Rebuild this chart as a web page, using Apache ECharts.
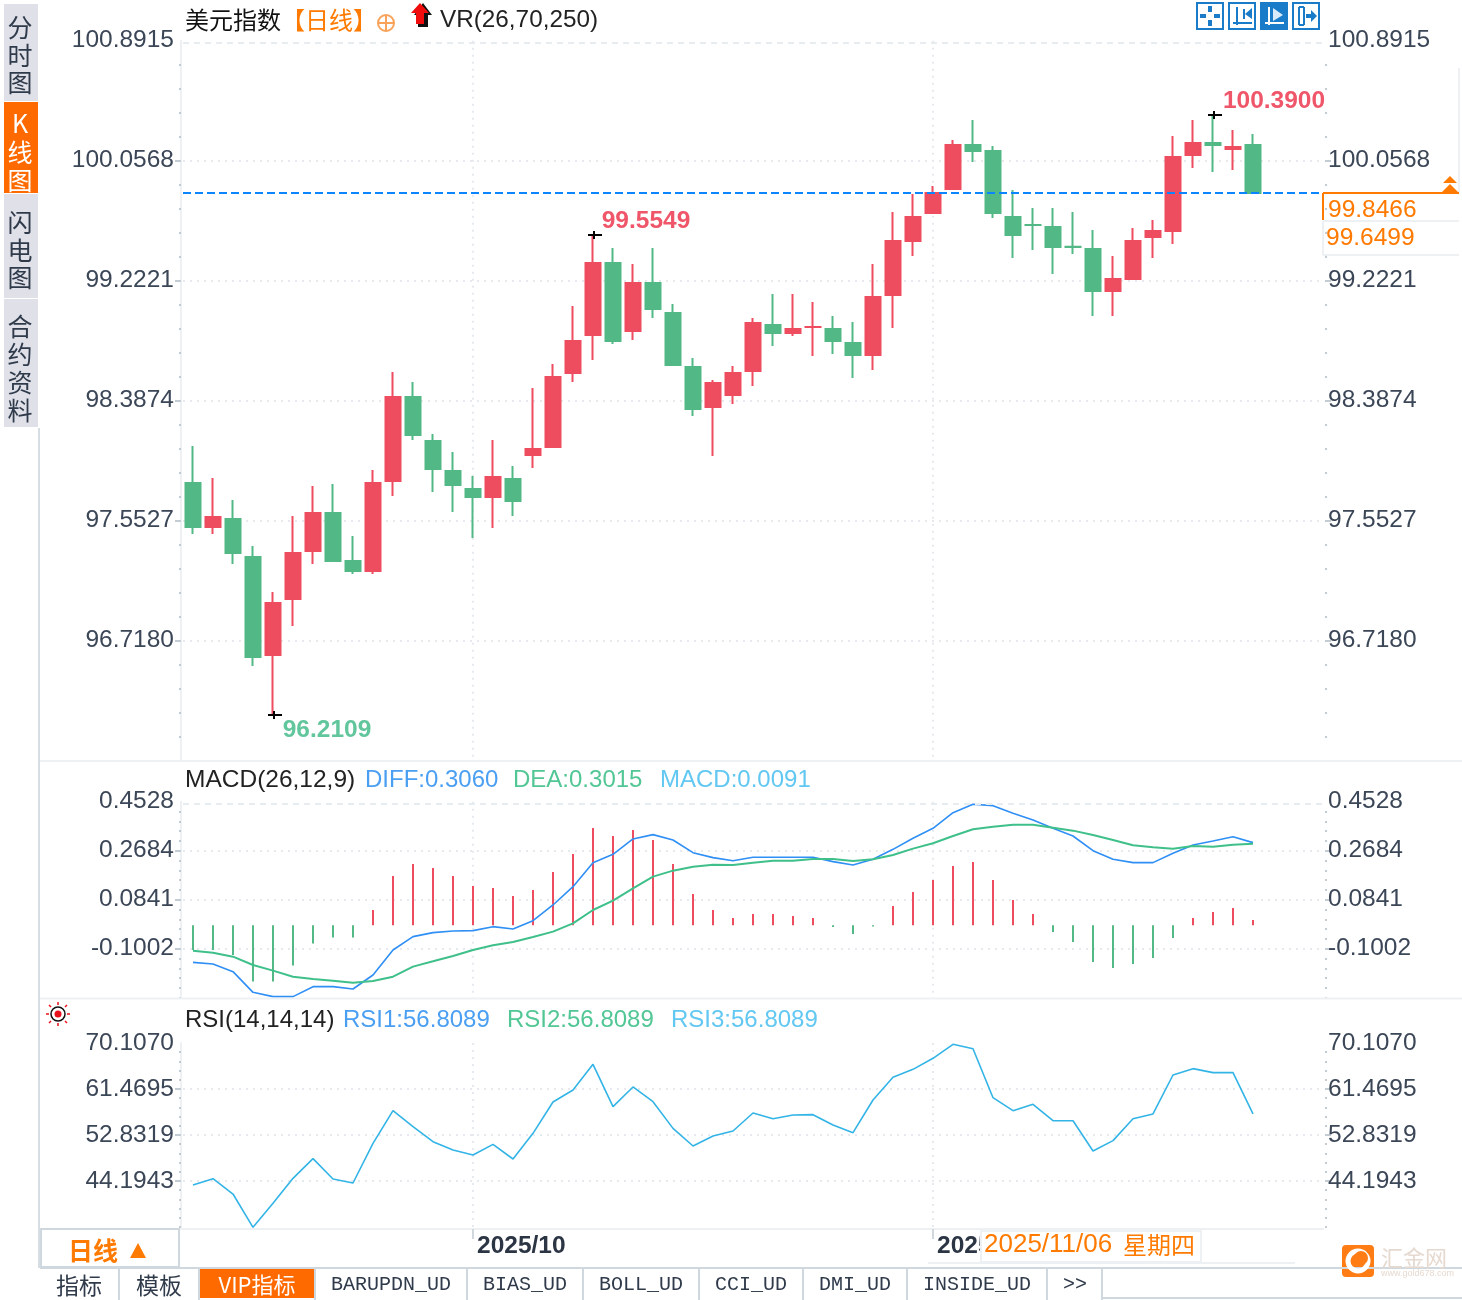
<!DOCTYPE html>
<html>
<head>
<meta charset="utf-8">
<title>美元指数 日线</title>
<script src="https://cdn.jsdelivr.net/npm/echarts@6/dist/echarts.min.js"></script>
<style>
  html, body { margin: 0; padding: 0; background: #fff; }
  #chart { width: 1462px; height: 1300px; }
</style>
</head>
<body>
<div id="chart"></div>
<script>
const dates = [
  '2025-09-11','2025-09-12','2025-09-15','2025-09-16','2025-09-17','2025-09-18','2025-09-19',
  '2025-09-22','2025-09-23','2025-09-24','2025-09-25','2025-09-26','2025-09-29','2025-09-30',
  '2025-10-01','2025-10-02','2025-10-03','2025-10-06','2025-10-07','2025-10-08','2025-10-09','2025-10-10',
  '2025-10-13','2025-10-14','2025-10-15','2025-10-16','2025-10-17',
  '2025-10-20','2025-10-21','2025-10-22','2025-10-23','2025-10-24',
  '2025-10-27','2025-10-28','2025-10-29','2025-10-30','2025-10-31',
  '2025-11-03','2025-11-04','2025-11-05','2025-11-06','2025-11-07',
  '2025-11-10','2025-11-11','2025-11-12','2025-11-13','2025-11-14',
  '2025-11-17','2025-11-18','2025-11-19','2025-11-20','2025-11-21',
  '2025-11-24','2025-11-25','','',''
];
const monthDates = ['2025-10-01', '2025-11-03'];
const monthLabels = ['2025/10', '2025/11'];

const opens = [
  97.827, 97.520, 97.576, 97.312, 96.629, 97.019, 97.353, 97.618, 97.284, 97.214,
  97.841, 98.426, 98.119, 97.910, 97.785, 97.729, 97.855, 98.022, 98.078, 98.593,
  98.858, 99.359, 98.886, 99.220, 99.011, 98.635, 98.356, 98.440, 98.607, 98.927,
  98.872, 98.913, 98.899, 98.802, 98.719, 99.136, 99.513, 99.707, 99.875, 100.181,
  100.139, 99.680, 99.6245, 99.610, 99.4715, 99.457, 99.164, 99.248, 99.540, 99.582,
  100.111, 100.195, 100.153, 100.181
];
const closes = [
  97.520, 97.590, 97.339, 96.615, 96.991, 97.339, 97.618, 97.284, 97.214, 97.827,
  98.426, 98.161, 97.924, 97.813, 97.729, 97.869, 97.702, 98.064, 98.565, 98.816,
  99.359, 98.816, 99.220, 99.039, 98.649, 98.342, 98.523, 98.593, 98.941, 98.872,
  98.899, 98.914, 98.816, 98.719, 99.122, 99.512, 99.680, 99.847, 100.181, 100.139,
  99.707, 99.554, 99.6235, 99.471, 99.4705, 99.164, 99.248, 99.512, 99.582, 100.097,
  100.195, 100.181, 100.167, 99.8466
];
const lows = [
  97.472, 97.472, 97.263, 96.552, 96.2109, 96.831, 97.263, 97.277, 97.193, 97.193,
  97.736, 98.126, 97.764, 97.625, 97.444, 97.513, 97.597, 97.931, 98.071, 98.530,
  98.684, 98.795, 98.823, 98.976, 98.642, 98.294, 98.015, 98.377, 98.503, 98.781,
  98.851, 98.712, 98.725, 98.558, 98.614, 98.906, 99.408, 99.700, 99.868, 100.063,
  99.673, 99.394, 99.450, 99.283, 99.422, 98.990, 98.990, 99.241, 99.394, 99.492,
  100.021, 99.993, 100.007, 99.8466
];
const highs = [
  98.085, 97.862, 97.709, 97.388, 97.068, 97.597, 97.806, 97.820, 97.458, 97.917,
  98.600, 98.530, 98.168, 98.043, 97.876, 98.126, 97.945, 98.489, 98.656, 99.060,
  99.5549, 99.464, 99.352, 99.464, 99.074, 98.697, 98.544, 98.642, 98.976, 99.143,
  99.143, 99.088, 98.990, 98.948, 99.352, 99.714, 99.840, 99.896, 100.216, 100.355,
  100.174, 99.868, 99.742, 99.742, 99.714, 99.589, 99.408, 99.603, 99.659, 100.244,
  100.355, 100.3900, 100.286, 100.258
];
const diff = [
  -0.1373, -0.1435, -0.1719, -0.2484, -0.2644, -0.2644, -0.2274, -0.2274, -0.2360, -0.1842,
  -0.0916, -0.0422, -0.0274, -0.0212, -0.0200, -0.0052, -0.0138, 0.0170, 0.0751, 0.1430,
  0.2319, 0.2627, 0.3195, 0.3356, 0.3158, 0.2689, 0.2504, 0.2386, 0.2516, 0.2516,
  0.2516, 0.2516, 0.2356, 0.2232, 0.2442, 0.2812, 0.3220, 0.3590, 0.4170, 0.4479,
  0.4430, 0.4146, 0.3899, 0.3590, 0.3306, 0.2763, 0.2442, 0.2319, 0.2319, 0.2664,
  0.2973, 0.3121, 0.3281, 0.3060
];
const dea = [
  -0.0941, -0.1015, -0.1163, -0.1472, -0.1681, -0.1904, -0.1990, -0.2052, -0.2126, -0.2064,
  -0.1904, -0.1533, -0.1336, -0.1138, -0.0916, -0.0743, -0.0620, -0.0435, -0.0237, 0.0072,
  0.0565, 0.0911, 0.1368, 0.1800, 0.2022, 0.2170, 0.2244, 0.2232, 0.2319, 0.2393,
  0.2393, 0.2454, 0.2454, 0.2380, 0.2442, 0.2602, 0.2837, 0.3035, 0.3306, 0.3553,
  0.3652, 0.3726, 0.3726, 0.3615, 0.3504, 0.3343, 0.3158, 0.2961, 0.2886, 0.2837,
  0.2936, 0.2911, 0.2985, 0.3015
];
const macd = [
  -0.0914, -0.0914, -0.1099, -0.2086, -0.2086, -0.1494, -0.0679, -0.0457, -0.0457, 0.0568,
  0.1827, 0.2272, 0.2123, 0.1827, 0.1457, 0.1383, 0.1086, 0.1309, 0.1975, 0.2642,
  0.3605, 0.3309, 0.3531, 0.3160, 0.2272, 0.1160, 0.0568, 0.0272, 0.0420, 0.0420,
  0.0346, 0.0272, -0.0060, -0.0321, -0.0050, 0.0716, 0.1235, 0.1679, 0.2198, 0.2346,
  0.1679, 0.0938, 0.0420, -0.0247, -0.0617, -0.1358, -0.1580, -0.1432, -0.1210, -0.0469,
  0.0272, 0.0494, 0.0642, 0.0198
];
const rsi = [
  43.44, 44.63, 41.75, 35.50, 40.00, 44.70, 48.39, 44.57, 43.82, 51.27,
  57.40, 54.40, 51.58, 50.02, 49.08, 51.08, 48.33, 53.15, 59.03, 61.28,
  66.10, 58.15, 61.85, 59.09, 54.08, 50.77, 52.65, 53.58, 56.96, 55.90,
  56.59, 56.65, 54.71, 53.27, 59.40, 63.66, 65.16, 67.23, 69.86, 69.04,
  59.84, 57.40, 58.59, 55.52, 55.52, 49.83, 51.77, 55.90, 56.78, 64.10,
  65.29, 64.54, 64.54, 56.8089
];

const priceTicks = [100.8915, 100.0568, 99.2221, 98.3874, 97.5527, 96.7180];
const macdTicks = [0.4528, 0.2684, 0.0841, -0.1002];
const rsiTicks = [70.1070, 61.4695, 52.8319, 44.1943];
const lastPrice = 99.8466;

const RED = '#ee4d5f';
const GREEN = '#52b986';
const SANS = '"Liberation Sans", Arial, sans-serif';
const CJK = '"Noto Sans CJK SC", sans-serif';
const MONO = '"Liberation Mono", monospace';
const GRID_X = { left: 183, width: 1140 };

// ticks between the labelled ones, five to each step
function minorTicks(ticks, min) {
  const step = (ticks[0] - ticks[1]) / 5;
  const out = [];
  for (let v = ticks[0] - step; v > min; v -= step) out.push(v);
  return out;
}

// one panel: hidden data axis, label axes left and right, little tick axes left and right
function panelAxes(grid, dataRange, labelRange, ticks, labelPad) {
  const base = { type: 'value', gridIndex: grid, min: labelRange[0], max: labelRange[1], scale: true, splitLine: { show: false } };
  const labels = {
    show: true, color: '#3b4657', fontFamily: SANS, fontSize: 24.5, margin: 7, padding: labelPad,
    customValues: ticks, formatter: v => v.toFixed(4)
  };
  const mainTick = { show: true, length: 6, customValues: ticks.slice(1), lineStyle: { color: '#c4ccd3', width: 2 } };
  const smallTick = { show: true, length: 2, customValues: minorTicks(ticks, labelRange[0]), lineStyle: { color: '#c4ccd3', width: 2 } };
  return [
    { type: 'value', gridIndex: grid, min: dataRange[0], max: dataRange[1], scale: true, show: false, splitLine: { show: false } },
    Object.assign({}, base, {
      position: 'left', offset: 2, axisLabel: labels, axisTick: mainTick,
      axisLine: { show: true, lineStyle: { color: '#edf1f4', width: 2 } },
      splitLine: { show: true, lineStyle: { color: '#e6eaee', width: 2, type: [2, 5] } }
    }),
    Object.assign({}, base, {
      position: 'right', offset: 2, axisLabel: Object.assign({}, labels, { margin: 3 }),
      axisTick: mainTick, axisLine: { show: false }
    }),
    Object.assign({}, base, { position: 'left', offset: 2, axisLabel: { show: false }, axisTick: smallTick, axisLine: { show: false } }),
    Object.assign({}, base, { position: 'right', offset: 2, axisLabel: { show: false }, axisTick: smallTick, axisLine: { show: false } })
  ];
}

function panelX(grid, extra) {
  return Object.assign({
    type: 'category', gridIndex: grid, data: dates, boundaryGap: true,
    axisLine: { show: false }, axisTick: { show: false }, axisLabel: { show: false },
    splitLine: {
      show: true, alignWithLabel: true, interval: (i, v) => monthDates.includes(v),
      lineStyle: { color: '#e6eaee', width: 2, type: [2, 5] }
    }
  }, extra || {});
}

function topLine(value) {
  return {
    silent: true, symbol: 'none', animation: false, label: { show: false },
    data: [{ yAxis: value, lineStyle: { color: '#e6ecef', width: 2, type: [6, 5] } }]
  };
}

function extreme(i, value, text, color, offset) {
  return {
    coord: [i, value],
    label: { show: true, position: 'inside', offset: offset, formatter: text, color: color, fontFamily: SANS, fontSize: 24.5, fontWeight: 'bold' }
  };
}

function txt(x, y, text, color, font, align) {
  return {
    type: 'text', x: x, y: y, silent: true, z: 50,
    style: { text: text, fill: color, font: font || '24.5px ' + SANS, align: align || 'left', verticalAlign: 'middle', textAlign: align || 'left', textVerticalAlign: 'middle' }
  };
}
function rect(x, y, w, h, fill, stroke, lw, r) {
  return {
    type: 'rect', silent: true, z: 40, shape: { x: x, y: y, width: w, height: h, r: r || 0 },
    style: { fill: fill || 'none', stroke: stroke || 'none', lineWidth: lw || 0 }
  };
}
function seg(x1, y1, x2, y2, color, lw) {
  return {
    type: 'line', silent: true, z: 45, shape: { x1: x1, y1: y1, x2: x2, y2: y2 },
    style: { stroke: color, lineWidth: lw || 2 }
  };
}

// left rail, bottom tabs, header texts and the little icons
const graphics = [];
const RAIL = '#dfe0e8';
const INK = '#2f3a4a';
const ORANGE = '#ff7a00';
function rail(y, h, fill, chars, ys, color) {
  graphics.push(rect(4, y, 34, h, fill));
  chars.forEach((c, i) => graphics.push(txt(20, ys[i], c, color, '25px ' + CJK, 'center')));
}
rail(4, 97, RAIL, ['分', '时', '图'], [27, 55, 82], INK);
rail(102, 91, '#ff6a00', ['K', '线', '图'], [123, 152, 180], '#fff');
rail(194, 104, RAIL, ['闪', '电', '图'], [222, 250, 277], INK);
rail(299, 128, RAIL, ['合', '约', '资', '料'], [326, 354, 382, 410], INK);
graphics.push(seg(39, 428, 39, 1268, '#d6dde3', 2));
graphics.push(seg(40, 761, 1462, 761, '#edf1f4', 2));
graphics.push(seg(40, 998.5, 1462, 998.5, '#edf1f4', 2));
graphics.push(seg(1459, 68, 1459, 193, '#edf1f4', 2));

graphics.push(txt(185, 20, '美元指数', '#111', '24px ' + CJK));
graphics.push(txt(281, 20, '【日线】', ORANGE, '24px ' + CJK));
graphics.push({ type: 'circle', silent: true, z: 45, shape: { cx: 386, cy: 23, r: 8 }, style: { fill: 'none', stroke: '#f9a25a', lineWidth: 2 } });
graphics.push(seg(378, 23, 394, 23, '#f9a25a', 2), seg(386, 15, 386, 31, '#f9a25a', 2));
graphics.push({ type: 'polygon', silent: true, z: 44, shape: { points: [[423, 3], [432, 15], [428, 15], [428, 27], [418, 27], [418, 15], [414, 15]] }, style: { fill: '#111' } });
graphics.push({ type: 'polygon', silent: true, z: 45, shape: { points: [[420, 3], [429, 13], [424, 13], [424, 24], [416, 24], [416, 13], [411, 13]] }, style: { fill: '#f00c0c' } });
graphics.push(txt(440, 20, 'VR(26,70,250)', '#222', '24.3px ' + SANS));

// toolbar icons
const ICON = '#1a7bc8';
[1197, 1229, 1261, 1293].forEach((x, i) => {
  graphics.push(rect(x, 3, 26, 26, i === 2 ? ICON : '#fff', ICON, 2));
});
graphics.push(rect(1208, 6, 4, 6, ICON), rect(1208, 20, 4, 6, ICON), rect(1200, 14, 6, 4, ICON), rect(1214, 14, 6, 4, ICON));
graphics.push(seg(1237, 7, 1237, 25, ICON, 2), seg(1233, 23, 1252, 23, ICON, 2), seg(1244, 9, 1244, 19, ICON, 2));
graphics.push({ type: 'polygon', silent: true, z: 45, shape: { points: [[1252, 8], [1252, 19], [1245, 14]] }, style: { fill: ICON } });
graphics.push(seg(1269, 7, 1269, 25, '#fff', 2), seg(1265, 23, 1284, 23, '#fff', 2));
graphics.push({ type: 'polygon', silent: true, z: 45, shape: { points: [[1273, 8], [1283, 15], [1273, 21]] }, style: { fill: '#d9eafa' } });
graphics.push(seg(1299, 7, 1299, 25, ICON, 2), seg(1299, 7, 1304, 7, ICON, 2), seg(1299, 25, 1304, 25, ICON, 2), seg(1304, 7, 1304, 25, ICON, 2), seg(1306, 16, 1312, 16, ICON, 4));
graphics.push({ type: 'polygon', silent: true, z: 45, shape: { points: [[1311, 10], [1317, 16], [1311, 22]] }, style: { fill: ICON } });

// last price boxes on the right
graphics.push(seg(1323, 193, 1459, 193, ORANGE, 2), seg(1323, 193, 1323, 220, ORANGE, 2));
graphics.push(seg(1323, 221, 1459, 221, '#edf1f4', 2), seg(1323, 221, 1323, 255, '#edf1f4', 2), seg(1323, 255, 1459, 255, '#edf1f4', 2));
graphics.push(txt(1328, 210, '99.8466', ORANGE), txt(1326, 238, '99.6499', ORANGE));
graphics.push({ type: 'polygon', silent: true, z: 45, shape: { points: [[1450, 176], [1457, 183], [1443, 183]] }, style: { fill: ORANGE } });
graphics.push({ type: 'polygon', silent: true, z: 45, shape: { points: [[1450, 184], [1458, 192], [1442, 192]] }, style: { fill: ORANGE } });

// indicator titles
const TITLE2 = '24px ' + SANS;
graphics.push(txt(185, 780, 'MACD(26,12,9)', '#222'));
graphics.push(txt(365, 780, 'DIFF:0.3060', '#4b9ff2', TITLE2), txt(513, 780, 'DEA:0.3015', '#52c795', TITLE2), txt(660, 780, 'MACD:0.0091', '#62c8f2', TITLE2));
graphics.push(txt(185, 1020, 'RSI(14,14,14)', '#222', TITLE2));
graphics.push(txt(343, 1020, 'RSI1:56.8089', '#4b9ff2', TITLE2), txt(507, 1020, 'RSI2:56.8089', '#52c795', TITLE2), txt(671, 1020, 'RSI3:56.8089', '#62c8f2', TITLE2));

// sun icon of the RSI panel
graphics.push({ type: 'circle', silent: true, z: 45, shape: { cx: 58, cy: 1014, r: 7 }, style: { fill: '#fff', stroke: '#111', lineWidth: 1.5 } });
graphics.push({ type: 'circle', silent: true, z: 46, shape: { cx: 58, cy: 1014, r: 3.5 }, style: { fill: '#e8101c' } });
[[58, 1002, 58, 1005], [58, 1023, 58, 1026], [46, 1014, 49, 1014], [67, 1014, 70, 1014], [49, 1005, 51, 1007], [65, 1021, 67, 1023], [67, 1005, 65, 1007], [49, 1023, 51, 1021]]
  .forEach(p => graphics.push(seg(p[0], p[1], p[2], p[3], '#e8101c', 1.5)));

// period box and tab strip
graphics.push(rect(41, 1229, 138, 38, '#fff', '#cfd8de', 2));
graphics.push(txt(68, 1250, '日线', ORANGE, 'bold 25px ' + CJK));
graphics.push({ type: 'polygon', silent: true, z: 45, shape: { points: [[138, 1243], [146, 1258], [130, 1258]] }, style: { fill: ORANGE } });
graphics.push(seg(40, 1268, 1462, 1268, '#cfd8de', 2), seg(1102, 1298, 1462, 1298, '#cfd8de', 2));
graphics.push(rect(200, 1269, 114, 29, '#ff6a00'));
[119, 199, 315, 467, 583, 699, 803, 907, 1047, 1102].forEach(x => graphics.push(seg(x, 1269, x, 1300, '#cfd8de', 2)));
graphics.push(txt(79, 1285, '指标', INK, '23px ' + CJK, 'center'), txt(159, 1285, '模板', INK, '23px ' + CJK, 'center'));
graphics.push(txt(257, 1285, 'VIP指标', '#fff', '22px ' + CJK, 'center'));
[['BARUPDN_UD', 391], ['BIAS_UD', 525], ['BOLL_UD', 641], ['CCI_UD', 751], ['DMI_UD', 855], ['INSIDE_UD', 977], ['>>', 1075]]
  .forEach(t => graphics.push(txt(t[1], 1285, t[0], INK, '20px ' + MONO, 'center')));

// crosshair date box
graphics.push(rect(981, 1231, 220, 31, '#fff', '#edf1f4', 2));
graphics.push(seg(928, 1263, 1295, 1263, '#edf1f4', 2));
graphics.push(txt(984, 1245, '2025/11/06', ORANGE, '26px ' + SANS));
graphics.push(txt(1123, 1245, '星期四', ORANGE, '24px ' + CJK));

// logo
graphics.push(rect(1342, 1245, 32, 32, '#ff7d14', null, 0, 4));
graphics.push({ type: 'circle', silent: true, z: 45, shape: { cx: 1358, cy: 1261, r: 10 }, style: { fill: 'none', stroke: '#fff', lineWidth: 5 } });
graphics.push({ type: 'circle', silent: true, z: 46, shape: { cx: 1361, cy: 1258, r: 7 }, style: { fill: '#ff7d14' } });
graphics.push(txt(1381, 1258, '汇金网', '#e6d9cf', '22px ' + CJK));
graphics.push(txt(1381, 1274, 'www.gold678.com', '#e6d9cf', '9px ' + SANS));

const candles = dates.slice(0, opens.length).map((d, i) => [opens[i], closes[i], lows[i], highs[i]]);

const option = {
  animation: false,
  backgroundColor: '#fff',
  grid: [
    Object.assign({ top: 40.7, height: 719.3 }, GRID_X),
    Object.assign({ top: 801.7, height: 196.3 }, GRID_X),
    Object.assign({ top: 1043, height: 186 }, GRID_X)
  ],
  xAxis: [
    panelX(0),
    panelX(1),
    panelX(2, {
      axisLine: { show: true, lineStyle: { color: '#edf1f4', width: 2 } },
      axisTick: { show: true, alignWithLabel: true, length: 10, interval: (i, v) => monthDates.includes(v), lineStyle: { color: '#d0d8de', width: 2 } },
      axisLabel: {
        show: true, interval: (i, v) => monthDates.includes(v),
        formatter: v => monthLabels[monthDates.indexOf(v)],
        align: 'left', padding: [0, 0, 0, 4], margin: 5,
        color: '#2b3544', fontFamily: SANS, fontSize: 24.5, fontWeight: 'bold'
      }
    })
  ],
  yAxis: [].concat(
    panelAxes(0, [95.8976, 100.9075], [95.888, priceTicks[0]], priceTicks, [3, 0, 0, 0]),
    panelAxes(1, [-0.2694, 0.4576], [-0.2856, macdTicks[0]], macdTicks, [2, 0, 0, 0]),
    panelAxes(2, [35.183, rsiTicks[0]], [35.183, rsiTicks[0]], rsiTicks, [0, 0, 2, 0])
  ),
  series: [
    {
      name: '美元指数', type: 'candlestick', xAxisIndex: 0, yAxisIndex: 0, data: candles, barWidth: 16,
      itemStyle: { color: RED, color0: GREEN, borderColor: RED, borderColor0: GREEN, borderWidth: 2 },
      markLine: {
        silent: true, symbol: 'none', label: { show: false },
        data: [
          { yAxis: priceTicks[0], lineStyle: { color: '#e6ecef', width: 2, type: [6, 5] } },
          { yAxis: lastPrice, lineStyle: { color: '#0a84ff', width: 2, type: [8, 4] } }
        ]
      },
      markPoint: {
        symbol: 'path://M0,6h14v2h-14z M5,3h2v8h-2z', symbolSize: 14, symbolKeepAspect: true, symbolOffset: [2, 0],
        itemStyle: { color: '#000' },
        data: [
          extreme(20, highs[20], '99.5549', '#f0566a', [51, -14]),
          extreme(4, lows[4], '96.2109', '#62c69c', [52, 15]),
          extreme(51, highs[51], '100.3900', '#f0566a', [59, -14])
        ]
      }
    },
    {
      name: 'MACD', type: 'bar', xAxisIndex: 1, yAxisIndex: 5, data: macd, barWidth: 2,
      itemStyle: { color: p => (p.value >= 0 ? RED : GREEN) }
    },
    {
      name: 'DIFF', type: 'line', xAxisIndex: 1, yAxisIndex: 5, data: diff, symbol: 'none',
      lineStyle: { color: '#2f8ff5', width: 1.6 }, markLine: topLine(macdTicks[0])
    },
    {
      name: 'DEA', type: 'line', xAxisIndex: 1, yAxisIndex: 5, data: dea, symbol: 'none',
      lineStyle: { color: '#3fc08a', width: 2 }
    },
    {
      name: 'RSI', type: 'line', xAxisIndex: 2, yAxisIndex: 10, data: rsi, symbol: 'none',
      lineStyle: { color: '#33b4e6', width: 1.6 }, markLine: topLine(rsiTicks[0])
    }
  ],
  graphic: graphics
};

const myChart = echarts.init(document.getElementById('chart'));
myChart.setOption(option);

window.addEventListener('resize', function() {
  myChart.resize();
});
</script>
</body>
</html>
